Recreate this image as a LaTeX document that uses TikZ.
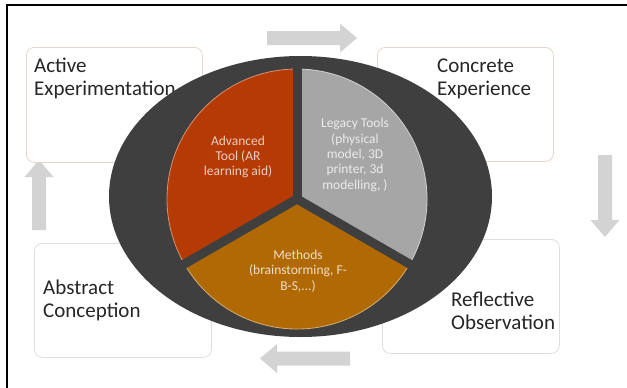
\documentclass[tikz,border=0pt]{standalone}
\usepackage{fontspec}
\setmainfont{Carlito}
\usetikzlibrary{positioning}
\definecolor{cycledark}{HTML}{3F3F3F}
\definecolor{slicered}{HTML}{B53A04}
\definecolor{slicegray}{HTML}{A6A6A6}
\definecolor{sliceorange}{HTML}{B16A03}
\definecolor{flowgray}{HTML}{D3D3D3}
\definecolor{boxtan}{HTML}{E4D6C8}
\definecolor{boxgray}{HTML}{DEDEDE}
\definecolor{stageink}{HTML}{262626}
% block arrow: centre, angle, half length
\newcommand{\cyclearrow}[3]{%
  \fill[flowgray,shift={#1},rotate=#2] (-#3,7) -- ({#3-17},7) -- ({#3-17},14.5) -- (#3,0)
    -- ({#3-17},-14.5) -- ({#3-17},-7) -- (-#3,-7) -- cycle;}

\begin{document}
\begin{tikzpicture}[x=1pt,y=1pt,
  stagebox/.style={draw=#1,line width=0.8pt,rounded corners=8pt,fill=white,anchor=north west},
  stagetext/.style={font=\fontsize{21}{23}\selectfont,text=stageink,align=left,anchor=base west,inner sep=0pt},
  slicetext/.style={font=\fontsize{13.5}{15.3}\selectfont,align=center,inner sep=0pt}]
  \useasboundingbox (0,0) rectangle (627,-388);
  % Frame (left and top only)
  \draw[line width=2pt] (7,-388) -- (7,-5) -- (627,-5);
  % Flow arrows between the stages
  \cyclearrow{(312,-38)}{0}{45}
  \cyclearrow{(605,-196)}{-90}{41}
  \cyclearrow{(305,-358.5)}{180}{45}
  \cyclearrow{(39,-195)}{90}{35}
  % Stage boxes
  \node[stagebox=boxtan,minimum width=176pt,minimum height=115pt] (active) at (26,-47) {};
  \node[stagebox=boxtan,minimum width=176pt,minimum height=114pt] (concrete) at (377,-47) {};
  \node[stagebox=boxgray,minimum width=177pt,minimum height=114pt] (abstract) at (34,-243) {};
  \node[stagebox=boxgray,minimum width=177pt,minimum height=114pt] (reflective) at (382,-239) {};
  % Stage labels (base = last line)
  \node[stagetext] (activelbl) at (34,-95) {Active\\Experimentation};
  \node[stagetext] (concretelbl) at (437,-95) {Concrete\\Experience};
  \node[stagetext] (abstractlbl) at (43,-317) {Abstract\\Conception};
  \node[stagetext] (reflectivelbl) at (451,-329) {Reflective\\Observation};
  % Dark ellipse behind the pie
  \fill[cycledark] (300.5,-196.5) ellipse [x radius=191.5, y radius=140.5];
  % Pie slices
  \coordinate (hub) at (297,-199);
  \filldraw[fill=slicered,draw=slicered!55!white,line width=0.8pt] (hub) -- ++(90:130) arc[start angle=90,end angle=210,radius=130] -- cycle;
  \filldraw[fill=slicegray,draw=slicegray!50!white,line width=0.8pt] (hub) -- ++(-30:130) arc[start angle=-30,end angle=90,radius=130] -- cycle;
  \filldraw[fill=sliceorange,draw=sliceorange!55!white,line width=0.8pt] (hub) -- ++(210:130) arc[start angle=210,end angle=330,radius=130] -- cycle;
  % Gaps between the slices
  \draw[cycledark,line width=9pt] (hub) -- ++(90:136);
  \draw[cycledark,line width=9pt] (hub) -- ++(210:136);
  \draw[cycledark,line width=9pt] (hub) -- ++(330:136);
  % Slice texts
  \node[slicetext,text=slicered!25!white] (advanced) at (238,-157) {Advanced\\Tool (AR\\learning aid)};
  \node[slicetext,text=white!92!black] (legacy) at (355,-155) {Legacy Tools\\(physical\\model, 3D\\printer, 3d\\modelling, )};
  \node[slicetext,text=sliceorange!22!white] (methods) at (298,-271) {Methods\\(brainstorming, F-\\B-S,...)};
\end{tikzpicture}
\end{document}
